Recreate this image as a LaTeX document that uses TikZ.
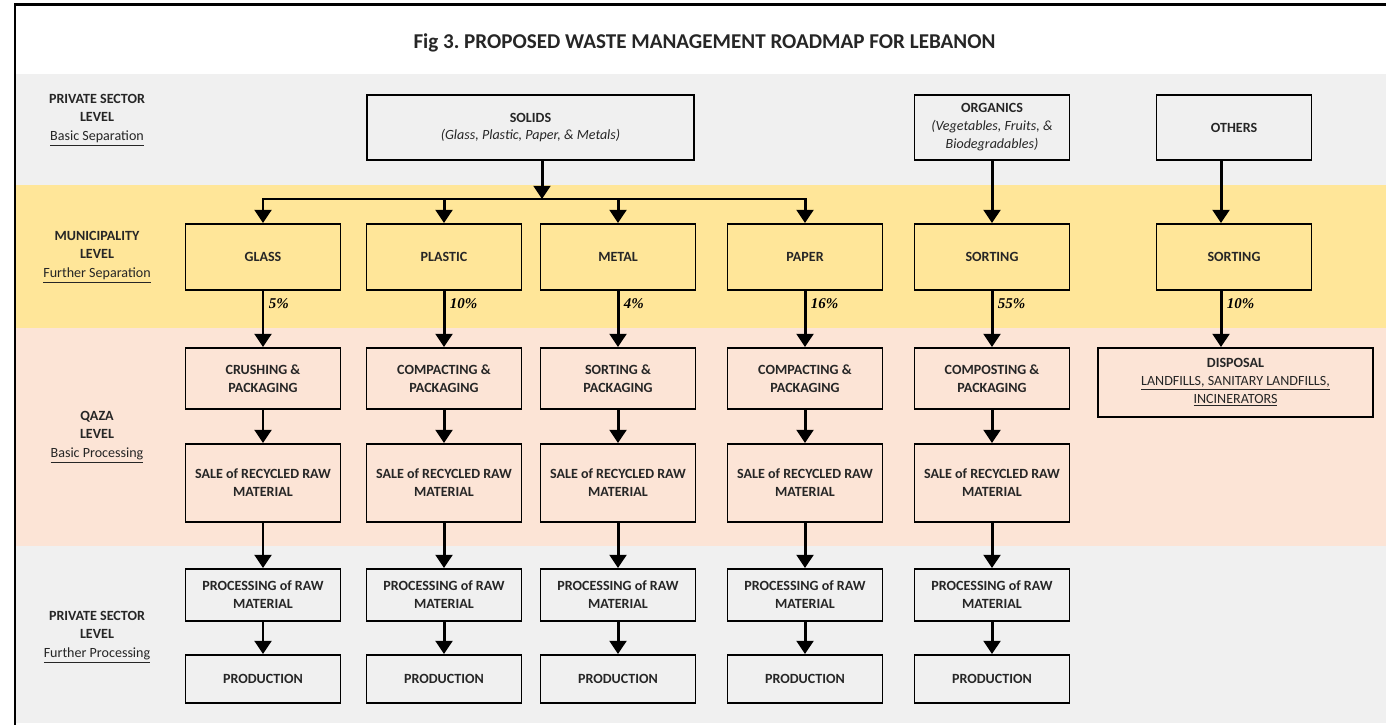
\documentclass[tikz,border=0pt]{standalone}
\usepackage{fontspec}
\setmainfont{Carlito}
\newfontfamily\fontepct{Liberation Serif}
\usetikzlibrary{arrows.meta, positioning, calc}
\usepackage{xcolor}
\definecolor{meucinza}{RGB}{240, 240, 240}
\definecolor{meuamarelo}{RGB}{255, 230, 153}
\definecolor{meurosa}{RGB}{252, 228, 214}
\frenchspacing

\begin{document}
\begin{tikzpicture}[
    caixa/.style={
        draw=black,
        line width=1.1pt,
        minimum width=3.1cm,
        inner sep=2pt,
        align=center,
        text=black!85,
        font=\fontsize{8}{10.2}\selectfont\bfseries
    },
    nivel/.style={
        align=center,
        text=black!85,
        font=\fontsize{8}{10.6}\selectfont
    },
    seta/.style={
        line width=1.7pt,
        -{Triangle[width=9.5pt, length=7.5pt]}
    },
    pct/.style={
        anchor=west,
        inner sep=1pt,
        xshift=1.5pt,
        font=\fontepct\fontsize{8.5}{10}\selectfont\bfseries\itshape
    }
]

\useasboundingbox (0,0) rectangle (27.72,-14.5);

% ---------------- Faixas ----------------

\fill[meucinza] (0.3,-1.48) rectangle (27.72,-3.7);
\fill[meuamarelo] (0.3,-3.7) rectangle (27.72,-6.56);
\fill[meurosa] (0.3,-6.56) rectangle (27.72,-10.92);
\fill[meucinza] (0.3,-10.92) rectangle (27.72,-14.46);
\draw[line width=1.6pt] (0.3,-14.5) -- (0.3,-0.09) -- (27.72,-0.09);

\node[
    text=black!85,
    font=\fontsize{12}{15}\selectfont\bfseries
] (titulo) at (14.09,-0.86)
{Fig 3. PROPOSED WASTE MANAGEMENT ROADMAP FOR LEBANON};

% ---------------- Niveis ----------------

\node[nivel] (nivel1) at (1.94,-2.4)
{\textbf{PRIVATE SECTOR}\\ \textbf{LEVEL}\\ \underline{Basic Separation}};
\node[nivel] (nivel2) at (1.94,-5.14)
{\textbf{MUNICIPALITY}\\ \textbf{LEVEL}\\ \underline{Further Separation}};
\node[nivel] (nivel3) at (1.94,-8.74)
{\textbf{QAZA}\\ \textbf{LEVEL}\\ \underline{Basic Processing}};
\node[nivel] (nivel4) at (1.94,-12.74)
{\textbf{PRIVATE SECTOR}\\ \textbf{LEVEL}\\ \underline{Further Processing}};

% ---------------- Separacao basica ----------------

\node[
    caixa,
    minimum width=6.54cm,
    minimum height=1.3cm
] (solids) at (10.61,-2.55)
{SOLIDS\\ {\mdseries\itshape (Glass, Plastic, Paper, \& Metals)}};

\node[
    caixa,
    minimum height=1.3cm
] (organics) at (19.84,-2.55)
{ORGANICS\\ {\mdseries\itshape (Vegetables, Fruits, \&}\\ {\mdseries\itshape Biodegradables)}};

\node[
    caixa,
    minimum height=1.3cm
] (others) at (24.68,-2.55)
{OTHERS};

% ---------------- Separacao adicional ----------------

\node[caixa, minimum height=1.32cm] (glass) at (5.26,-5.14) {GLASS};
\node[caixa, minimum height=1.32cm] (plastic) at (8.88,-5.14) {PLASTIC};
\node[caixa, minimum height=1.32cm] (metal) at (12.36,-5.14) {METAL};
\node[caixa, minimum height=1.32cm] (paper) at (16.1,-5.14) {PAPER};
\node[caixa, minimum height=1.32cm] (sorting) at (19.84,-5.14) {SORTING};
\node[caixa, minimum height=1.32cm] (sorting2) at (24.68,-5.14) {SORTING};

% ---------------- Processamento basico ----------------

\node[caixa, minimum height=1.22cm] (crushing) at (5.26,-7.57) {CRUSHING \&\\ PACKAGING};
\node[caixa, minimum height=1.22cm] (compacting) at (8.88,-7.57) {COMPACTING \&\\ PACKAGING};
\node[caixa, minimum height=1.22cm] (sortpack) at (12.36,-7.57) {SORTING \&\\ PACKAGING};
\node[caixa, minimum height=1.22cm] (compacting2) at (16.1,-7.57) {COMPACTING \&\\ PACKAGING};
\node[caixa, minimum height=1.22cm] (composting) at (19.84,-7.57) {COMPOSTING \&\\ PACKAGING};

\node[
    caixa,
    minimum width=5.5cm,
    minimum height=1.38cm
] (disposal) at (24.71,-7.65)
{DISPOSAL\\ {\mdseries\underline{LANDFILLS, SANITARY LANDFILLS,}}\\ {\mdseries\underline{INCINERATORS}}};

\node[caixa, minimum height=1.56cm] (sale1) at (5.26,-9.66) {SALE of RECYCLED RAW\\ MATERIAL};
\node[caixa, minimum height=1.56cm] (sale2) at (8.88,-9.66) {SALE of RECYCLED RAW\\ MATERIAL};
\node[caixa, minimum height=1.56cm] (sale3) at (12.36,-9.66) {SALE of RECYCLED RAW\\ MATERIAL};
\node[caixa, minimum height=1.56cm] (sale4) at (16.1,-9.66) {SALE of RECYCLED RAW\\ MATERIAL};
\node[caixa, minimum height=1.56cm] (sale5) at (19.84,-9.66) {SALE of RECYCLED RAW\\ MATERIAL};

% ---------------- Processamento adicional ----------------

\node[caixa, minimum height=1.04cm] (proc1) at (5.26,-11.9) {PROCESSING of RAW\\ MATERIAL};
\node[caixa, minimum height=1.04cm] (proc2) at (8.88,-11.9) {PROCESSING of RAW\\ MATERIAL};
\node[caixa, minimum height=1.04cm] (proc3) at (12.36,-11.9) {PROCESSING of RAW\\ MATERIAL};
\node[caixa, minimum height=1.04cm] (proc4) at (16.1,-11.9) {PROCESSING of RAW\\ MATERIAL};
\node[caixa, minimum height=1.04cm] (proc5) at (19.84,-11.9) {PROCESSING of RAW\\ MATERIAL};

\node[caixa, minimum height=0.96cm] (prod1) at (5.26,-13.58) {PRODUCTION};
\node[caixa, minimum height=0.96cm] (prod2) at (8.88,-13.58) {PRODUCTION};
\node[caixa, minimum height=0.96cm] (prod3) at (12.36,-13.58) {PRODUCTION};
\node[caixa, minimum height=0.96cm] (prod4) at (16.1,-13.58) {PRODUCTION};
\node[caixa, minimum height=0.96cm] (prod5) at (19.84,-13.58) {PRODUCTION};

% ---------------- Setas ----------------

\coordinate (barra) at (0,-3.98);
\draw[seta] ([xshift=0.23cm]solids.south) -- ([xshift=0.23cm]solids.south |- barra);
\draw[line width=1.7pt, line cap=rect] (glass.north |- barra) -- (paper.north |- barra);
\draw[seta] (glass.north |- barra) -- (glass.north);
\draw[seta] (plastic.north |- barra) -- (plastic.north);
\draw[seta] (metal.north |- barra) -- (metal.north);
\draw[seta] (paper.north |- barra) -- (paper.north);
\draw[seta] (organics) -- (sorting);
\draw[seta] ([xshift=-0.26cm]others.south) -- ([xshift=-0.26cm]sorting2.north);

\draw[seta] (glass) -- node[pct, pos=0.22] {5\%} (crushing);
\draw[seta] (plastic) -- node[pct, pos=0.22] {10\%} (compacting);
\draw[seta] (metal) -- node[pct, pos=0.22] {4\%} (sortpack);
\draw[seta] (paper) -- node[pct, pos=0.22] {16\%} (compacting2);
\draw[seta] (sorting) -- node[pct, pos=0.22] {55\%} (composting);
\draw[seta] ([xshift=-0.26cm]sorting2.south) -- node[pct, pos=0.22] {10\%} ([xshift=-0.26cm]sorting2.south |- disposal.north);

\draw[seta] (crushing) -- (sale1);
\draw[seta] (compacting) -- (sale2);
\draw[seta] (sortpack) -- (sale3);
\draw[seta] (compacting2) -- (sale4);
\draw[seta] (composting) -- (sale5);

\draw[seta] (sale1) -- (proc1);
\draw[seta] (sale2) -- (proc2);
\draw[seta] (sale3) -- (proc3);
\draw[seta] (sale4) -- (proc4);
\draw[seta] (sale5) -- (proc5);

\draw[seta] (proc1) -- (prod1);
\draw[seta] (proc2) -- (prod2);
\draw[seta] (proc3) -- (prod3);
\draw[seta] (proc4) -- (prod4);
\draw[seta] (proc5) -- (prod5);

\end{tikzpicture}
\end{document}
